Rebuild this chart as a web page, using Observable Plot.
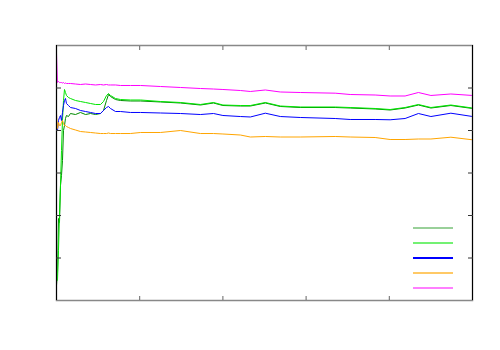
<!DOCTYPE html>
<html>
<head>
<meta charset="utf-8">
<script src="https://cdn.jsdelivr.net/npm/d3@7"></script>
<script src="https://cdn.jsdelivr.net/npm/@observablehq/plot@0.6"></script>
<style>
  html, body { margin: 0; padding: 0; background: #fff; }
  #wrap { position: relative; width: 500px; height: 350px; }
  #legend { position: absolute; left: 413px; top: 221px; }
  #legend .item { width: 40px; height: 15px; position: relative; }
  #legend .item span { position: absolute; left: 0; right: 0; top: 6px; }
</style>
</head>
<body>
<div id="wrap"><div id="legend"></div></div>
<script>
const xs = [0, 0.012, 0.024, 0.036, 0.048, 0.06, 0.072, 0.084, 0.096, 0.108, 0.12, 0.144, 0.168, 0.228, 0.288, 0.349, 0.409, 0.469, 0.529, 0.565, 0.601, 0.625, 0.649, 0.709, 0.769, 0.889, 1.01, 1.25, 1.49, 1.73, 1.887, 2.0, 2.21, 2.33, 2.51, 2.69, 2.93, 3.35, 3.53, 3.83, 4.01, 4.19, 4.35, 4.5, 4.74, 5.0];

const darkGreen = [0.353, 0.635, 1.929, 1.835, 2.706, 2.941, 3.294, 4.0, 4.118, 4.282,
  4.353, 4.329, 4.4, 4.376, 4.424, 4.376, 4.4, 4.376, 4.4, 4.471,
  4.706, 4.847, 4.8, 4.729, 4.706, 4.694, 4.694, 4.671, 4.647, 4.6,
  4.647, 4.588, 4.576, 4.576, 4.647, 4.565, 4.541, 4.541, 4.529, 4.506,
  4.482, 4.529, 4.6, 4.529, 4.588, 4.518];

const lime = [0.941, 0.471, 1.176, 2.0, 2.706, 3.529, 4.235, 4.706, 4.965, 4.894,
  4.824, 4.776, 4.753, 4.706, 4.682, 4.659, 4.635, 4.612, 4.612, 4.682,
  4.824, 4.871, 4.824, 4.753, 4.729, 4.718, 4.718, 4.682, 4.659, 4.612,
  4.659, 4.6, 4.588, 4.588, 4.659, 4.576, 4.553, 4.553, 4.541, 4.518,
  4.494, 4.541, 4.612, 4.541, 4.6, 4.529];

const blue = [4.118, 4.0, 4.235, 4.306, 4.353, 4.235, 4.424, 4.588, 4.706, 4.753,
  4.635, 4.588, 4.541, 4.518, 4.471, 4.447, 4.424, 4.4, 4.4, 4.471,
  4.541, 4.565, 4.518, 4.447, 4.447, 4.424, 4.424, 4.412, 4.4, 4.376,
  4.4, 4.353, 4.329, 4.318, 4.407, 4.329, 4.306, 4.282, 4.259, 4.259,
  4.252, 4.282, 4.4, 4.329, 4.407, 4.329];

const orange = [4.4, 4.047, 4.188, 4.118, 4.118, 4.188, 4.235, 4.165, 4.118, 4.118,
  4.094, 4.071, 4.047, 4.012, 3.976, 3.965, 3.953, 3.941, 3.929, 3.929,
  3.929, 3.941, 3.929, 3.929, 3.929, 3.929, 3.953, 3.953, 4.0, 3.929,
  3.929, 3.918, 3.894, 3.847, 3.859, 3.847, 3.847, 3.859, 3.847, 3.835,
  3.788, 3.788, 3.8, 3.8, 3.842, 3.781];

const magenta = [5.82, 5.129, 5.153, 5.129, 5.129, 5.129, 5.118, 5.129, 5.106, 5.118,
  5.106, 5.106, 5.106, 5.094, 5.082, 5.094, 5.082, 5.071, 5.082, 5.071,
  5.082, 5.071, 5.071, 5.071, 5.059, 5.059, 5.059, 5.035, 5.012, 4.988,
  4.976, 4.965, 4.941, 4.918, 4.953, 4.906, 4.894, 4.878, 4.847, 4.835,
  4.812, 4.812, 4.894, 4.824, 4.859, 4.824];

const xTicks = [1, 2, 3, 4];
const yTicks = [1, 2, 3, 4, 5];

const series = [
  {values: darkGreen, color: "#008a00", legendOpacity: 0.4, legendHeight: 2},
  {values: lime, color: "#00e600", legendOpacity: 0.55, legendHeight: 2},
  {values: blue, color: "#0000ff", legendOpacity: 1, legendHeight: 2},
  {values: orange, color: "#ffa500", legendOpacity: 0.6, legendHeight: 2},
  {values: magenta, color: "#ff00ff", legendOpacity: 0.5, legendHeight: 2}
];

const chart = Plot.plot({
  width: 500,
  height: 350,
  marginLeft: 56,
  marginRight: 28,
  marginTop: 45,
  marginBottom: 50,
  style: {background: "#fff"},
  x: {domain: [0, 5]},
  y: {domain: [0, 6]},
  marks: [
    ...series.map(s => Plot.line(s.values, {x: xs, y: s.values, stroke: s.color, strokeWidth: 1})),
    Plot.frame({stroke: "#888", strokeWidth: 1.5}),
    Plot.ruleX([0, 5], {stroke: "#000", strokeWidth: 1}),
    Plot.axisX({anchor: "bottom", ticks: xTicks, tickSize: 4, dy: -4, fill: "none", label: null, stroke: "#666"}),
    Plot.axisX({anchor: "top", ticks: xTicks, tickSize: 4, dy: 4, fill: "none", label: null, stroke: "#666"}),
    Plot.axisY({anchor: "left", ticks: yTicks, tickSize: 5, dx: 5, fill: "none", label: null, stroke: "#333"}),
    Plot.axisY({anchor: "right", ticks: yTicks, tickSize: 5, dx: -5, fill: "none", label: null, stroke: "#333"})
  ]
});
const wrap = document.getElementById("wrap");
wrap.insertBefore(chart, wrap.firstChild);

const legend = document.getElementById("legend");
for (const s of series) {
  const item = document.createElement("div");
  item.className = "item";
  const line = document.createElement("span");
  line.style.backgroundColor = s.color;
  line.style.opacity = s.legendOpacity;
  line.style.height = s.legendHeight + "px";
  item.appendChild(line);
  legend.appendChild(item);
}
</script>
</body>
</html>
